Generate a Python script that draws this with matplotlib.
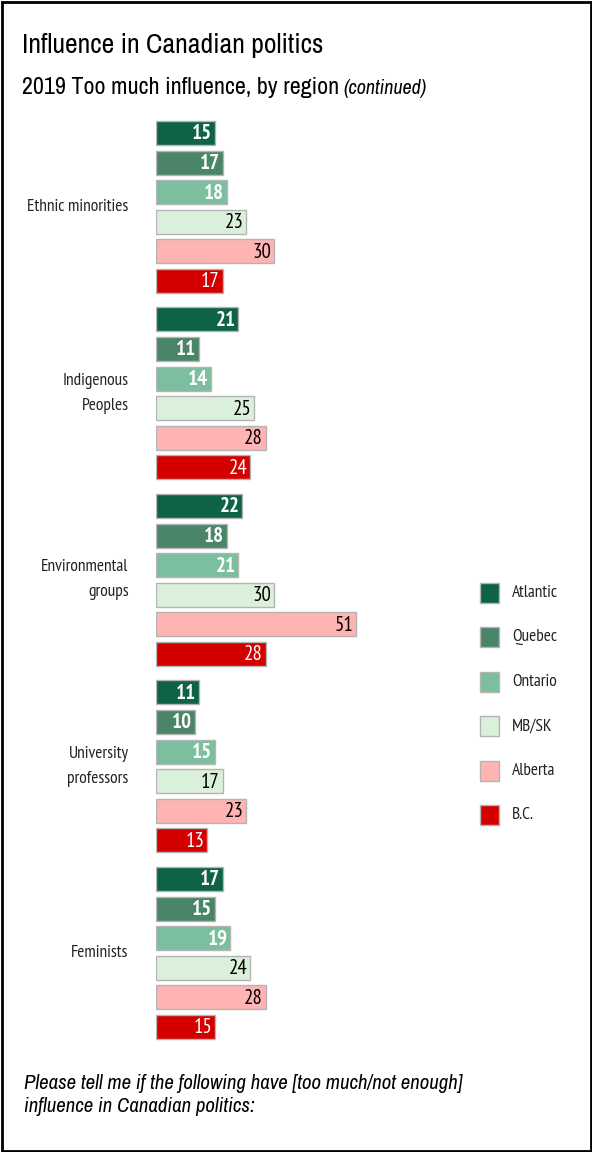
import matplotlib.pyplot as plt
from matplotlib.patches import Rectangle
from matplotlib import font_manager

# survey results, % saying "too much influence"
groups = ['Ethnic minorities', 'Indigenous\nPeoples', 'Environmental\ngroups',
          'University\nprofessors', 'Feminists']
regions = ['Atlantic', 'Quebec', 'Ontario', 'MB/SK', 'Alberta', 'B.C.']
atlantic = [15, 21, 22, 11, 17]
quebec = [17, 11, 18, 10, 15]
ontario = [18, 14, 21, 15, 19]
mbsk = [23, 25, 30, 17, 24]
alberta = [30, 28, 51, 23, 28]
bc = [17, 24, 28, 13, 15]

series = [atlantic, quebec, ontario, mbsk, alberta, bc]
colors = ['#0e6245', '#4b8567', '#7bbf9e', '#dbf0da', '#ffb3b3', '#d40000']
text_colors = ['white', 'white', 'white', 'black', 'black', 'white']
text_weights = ['bold', 'bold', 'bold', 'normal', 'normal', 'normal']

names = {f.name for f in font_manager.fontManager.ttflist}


def pick(*cands):
    for c in cands:
        if c in names:
            return [c, 'DejaVu Sans']
    return ['DejaVu Sans']


body_font = pick('PT Sans Narrow', 'Fira Sans Condensed', 'Encode Sans Condensed',
                 'Roboto Condensed', 'Archivo Narrow', 'Open Sans Condensed')
head_font = pick('Liberation Sans Narrow', 'Archivo Narrow', 'Arimo Narrow',
                 'Roboto Condensed', 'PT Sans Narrow', 'Liberation Sans')
plt.rcParams['font.family'] = body_font

W, H = 592, 1152
fig = plt.figure(figsize=(W / 100, H / 100), dpi=100)

# layout in pixels
x0, px_per_unit = 156, 3.92
top_px, slot_px = 133, 29.6
group_step = 6.3
ax_w = 294
ylo, yhi = -0.65, 4 * group_step + 5 + 0.65
ax_top = top_px + ylo * slot_px
ax_bot = top_px + yhi * slot_px
ax = fig.add_axes([x0 / W, 1 - ax_bot / H, ax_w / W, (ax_bot - ax_top) / H])
ax.set_xlim(0, ax_w / px_per_unit)
ax.set_ylim(yhi, ylo)
ax.axis('off')

for j, (vals, c) in enumerate(zip(series, colors)):
    ys = [i * group_step + j for i in range(len(groups))]
    ax.barh(ys, vals, height=0.81, color=c, edgecolor='#b4b4b4', linewidth=1)
    for y, v in zip(ys, vals):
        ax.text(v - 0.7, y + 0.03, str(v), ha='right', va='center', fontsize=15,
                color=text_colors[j], fontweight=text_weights[j])

for i, g in enumerate(groups):
    ax.text(-7, i * group_step + 2.5, g, ha='right', va='center', fontsize=12.5,
            linespacing=1.75, color='#222222')

# legend squares on the right
for k, (r, c) in enumerate(zip(regions, colors)):
    yc = 593 + k * 44.4
    fig.patches.append(Rectangle((480 / W, 1 - (yc + 10) / H), 19 / W, 20 / H,
                                 transform=fig.transFigure, facecolor=c,
                                 edgecolor='#b4b4b4', linewidth=1))
    fig.text(512 / W, 1 - yc / H, r, ha='left', va='center', fontsize=12.5, color='#222222')

fig.text(22 / W, 1 - 45 / H, 'Influence in Canadian politics', fontsize=20,
         ha='left', va='center', family=head_font)
fig.text(22 / W, 1 - 88 / H, '2019 Too much influence, by region', fontsize=17.3,
         ha='left', va='center', family=head_font)
fig.text(343 / W, 1 - 88 / H, '(continued)', fontsize=14.5, style='italic',
         ha='left', va='center', family=head_font)
fig.text(24 / W, 1 - 1095 / H,
         'Please tell me if the following have [too much/not enough]\ninfluence in Canadian politics:',
         fontsize=15, style='italic', ha='left', va='center', linespacing=1.25,
         family=head_font)

fig.patches.append(Rectangle((1.5 / W, 1.5 / H), (W - 3) / W, (H - 3) / H,
                             transform=fig.transFigure, fill=False,
                             edgecolor='black', linewidth=2))

fig.savefig('out.png', dpi=100)
